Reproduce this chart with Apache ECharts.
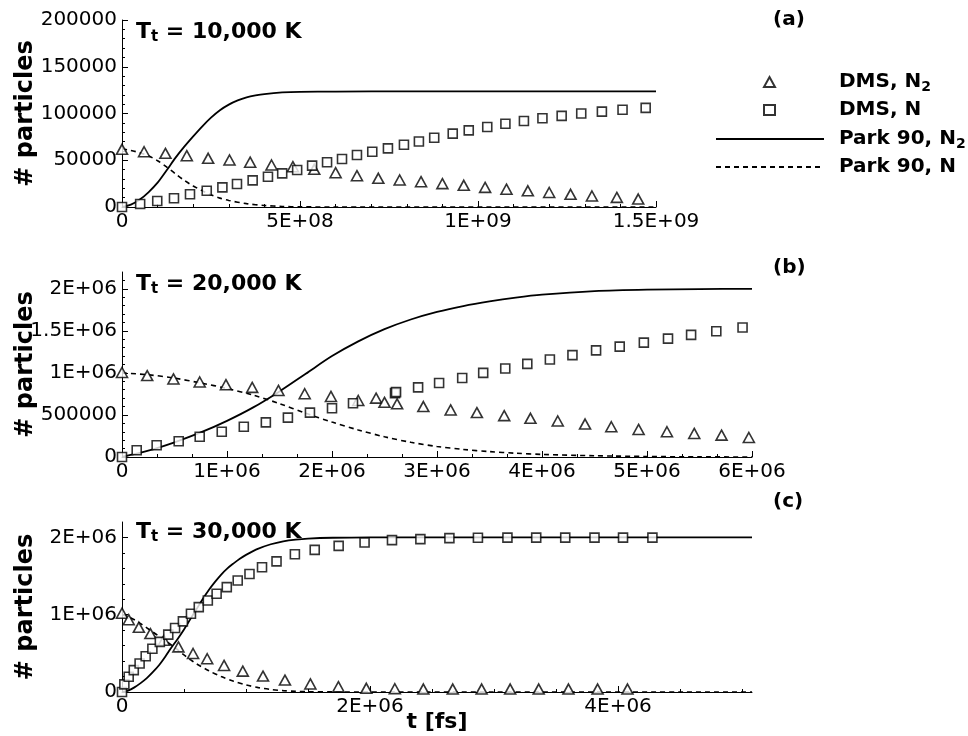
<!DOCTYPE html>
<html><head><meta charset="utf-8">
<script src="https://cdn.jsdelivr.net/npm/echarts@6/dist/echarts.min.js"></script>
<style>html,body{margin:0;padding:0;background:#fff}#c{width:968px;height:736px}</style>
</head><body><div id="c"></div>
<script>
// ---------------- data ----------------
// Panel (a)  T_t = 10,000 K
const a_dmsN2 = [[0,61700],[6.2e7,59100],[1.22e8,57400],[1.82e8,54900],[2.42e8,52100],[3.02e8,50300],[3.6e8,47900],[4.2e8,44900],[4.8e8,43100],[5.4e8,40300],[6.0e8,36700],[6.6e8,33500],[7.2e8,30700],[7.8e8,28900],[8.4e8,27100],[9.0e8,25000],[9.6e8,23200],[1.02e9,21000],[1.08e9,19100],[1.14e9,17300],[1.2e9,15500],[1.26e9,13600],[1.32e9,11800],[1.39e9,10300],[1.45e9,8500]];
const a_dmsN = [[0,0],[5.1e7,3200],[9.9e7,6400],[1.46e8,9300],[1.91e8,13600],[2.38e8,17400],[2.82e8,21000],[3.23e8,24600],[3.67e8,28500],[4.10e8,32400],[4.50e8,36000],[4.92e8,39600],[5.34e8,44200],[5.76e8,47800],[6.18e8,51300],[6.60e8,55600],[7.03e8,59100],[7.47e8,62700],[7.92e8,66600],[8.34e8,70000],[8.77e8,74000],[9.29e8,78500],[9.74e8,82000],[1.026e9,85500],[1.077e9,89000],[1.129e9,92000],[1.181e9,95000],[1.235e9,97500],[1.29e9,100000],[1.348e9,102000],[1.406e9,104000],[1.471e9,106000]];
const a_parkN2 = [[0,0],[2.5e7,2500],[5e7,8000],[7.5e7,16000],[1e8,26000],[1.25e8,39000],[1.5e8,52500],[1.75e8,64500],[2e8,75500],[2.25e8,86000],[2.5e8,95500],[2.75e8,103500],[3e8,109500],[3.25e8,114000],[3.5e8,117200],[3.75e8,119300],[4e8,120800],[4.5e8,122500],[5e8,123200],[6e8,123500],[8e8,123600],[1.5e9,123600]];
const a_parkN = [[0,62000],[2.5e7,60500],[5e7,58000],[7.5e7,54500],[1e8,49500],[1.25e8,43000],[1.5e8,35500],[1.75e8,28500],[2e8,22500],[2.25e8,17500],[2.5e8,13000],[2.75e8,9500],[3e8,7000],[3.5e8,3600],[4e8,1600],[4.5e8,600],[5e8,200],[6e8,0],[1.5e9,0]];

// Panel (b)  T_t = 20,000 K
const b_dmsN2 = [[0,1005000],[2.4e5,968000],[4.9e5,928000],[7.4e5,892000],[9.9e5,860000],[1.24e6,828000],[1.49e6,792000],[1.74e6,752000],[1.99e6,720000],[2.25e6,672000],[2.42e6,700000],[2.5e6,650000],[2.62e6,632000],[2.87e6,600000],[3.13e6,560000],[3.38e6,528000],[3.64e6,492000],[3.89e6,460000],[4.15e6,428000],[4.41e6,392000],[4.66e6,360000],[4.92e6,328000],[5.19e6,300000],[5.45e6,280000],[5.71e6,260000],[5.97e6,232000]];
const b_dmsN = [[0,0],[1.4e5,80000],[3.3e5,140000],[5.4e5,188000],[7.4e5,240000],[9.5e5,300000],[1.16e6,360000],[1.37e6,412000],[1.58e6,468000],[1.79e6,528000],[2.0e6,580000],[2.2e6,640000],[2.6e6,760000],[2.61e6,772000],[2.82e6,828000],[3.02e6,880000],[3.24e6,940000],[3.44e6,1000000],[3.65e6,1052000],[3.86e6,1108000],[4.075e6,1160000],[4.29e6,1212000],[4.515e6,1268000],[4.74e6,1312000],[4.97e6,1360000],[5.2e6,1408000],[5.42e6,1452000],[5.66e6,1496000],[5.91e6,1540000]];
const b_parkN2 = [[0,0],[2.5e5,75000],[5e5,175000],[7.5e5,292000],[1e6,430000],[1.25e6,590000],[1.5e6,780000],[1.75e6,990000],[2e6,1200000],[2.25e6,1375000],[2.5e6,1520000],[2.75e6,1635000],[3e6,1725000],[3.25e6,1795000],[3.5e6,1850000],[3.75e6,1895000],[4e6,1930000],[4.5e6,1972000],[5e6,1990000],[5.5e6,1997000],[6e6,2000000]];
const b_parkN = [[0,1000000],[2.5e5,978000],[5e5,938000],[7.5e5,880000],[1e6,815000],[1.25e6,735000],[1.5e6,635000],[1.75e6,520000],[2e6,415000],[2.25e6,322000],[2.5e6,240000],[2.75e6,175000],[3e6,125000],[3.25e6,90000],[3.5e6,64000],[3.75e6,45000],[4e6,31000],[4.5e6,15000],[5e6,6000],[5.5e6,2000],[6e6,0]];

// Panel (c)  T_t = 30,000 K
const c_dmsN2 = [[0,1020000],[5.4e4,936000],[1.36e5,837000],[2.29e5,756000],[3.38e5,670000],[4.55e5,584000],[5.73e5,498000],[6.87e5,430000],[8.23e5,344000],[9.74e5,270000],[1.137e6,206000],[1.314e6,154000],[1.519e6,104000],[1.745e6,69000],[1.97e6,48000],[2.2e6,42000],[2.43e6,38000],[2.667e6,38000],[2.9e6,38000],[3.13e6,38000],[3.36e6,38000],[3.6e6,38000],[3.835e6,38000],[4.076e6,38000]];
const c_dmsN = [[0,0],[1.9e4,99000],[5.4e4,198000],[9.5e4,283000],[1.42e5,369000],[1.91e5,463000],[2.45e5,559000],[3.05e5,649000],[3.73e5,743000],[4.28e5,829000],[4.91e5,914000],[5.56e5,1013000],[6.19e5,1099000],[6.92e5,1184000],[7.63e5,1271000],[8.45e5,1357000],[9.33e5,1442000],[1.028e6,1528000],[1.129e6,1614000],[1.246e6,1690000],[1.394e6,1783000],[1.554e6,1839000],[1.747e6,1891000],[1.956e6,1935000],[2.177e6,1965000],[2.406e6,1978000],[2.64e6,1991000],[2.87e6,1996000],[3.108e6,1998000],[3.34e6,1998000],[3.574e6,1998000],[3.81e6,1998000],[4.04e6,1998000],[4.277e6,1998000]];
const c_parkN2 = [[0,0],[5e4,18000],[1e5,60000],[1.5e5,115000],[2e5,180000],[2.5e5,260000],[3e5,350000],[3.5e5,460000],[4e5,580000],[4.5e5,690000],[5e5,810000],[5.5e5,940000],[6e5,1070000],[6.5e5,1200000],[7e5,1320000],[7.5e5,1425000],[8e5,1520000],[8.5e5,1600000],[9e5,1665000],[9.5e5,1725000],[1e6,1775000],[1.1e6,1855000],[1.2e6,1912000],[1.3e6,1950000],[1.4e6,1973000],[1.5e6,1986000],[1.7e6,1996000],[2e6,2000000],[5.08e6,2000000]];
const c_parkN = [[0,1000000],[5e4,975000],[1e5,935000],[1.5e5,885000],[2e5,830000],[2.5e5,775000],[3e5,720000],[3.5e5,665000],[4e5,605000],[4.5e5,545000],[5e5,480000],[5.5e5,420000],[6e5,365000],[7e5,275000],[8e5,200000],[9e5,140000],[1e6,92000],[1.1e6,57000],[1.2e6,33000],[1.3e6,18000],[1.4e6,9000],[1.5e6,4000],[1.7e6,1000],[2e6,0],[5.08e6,0]];

// tick labels
const aXTicks = [0,5e8,1e9,1.5e9], aXLabels = ['0','5E+08','1E+09','1.5E+09'];
const aYTicks = [0,50000,100000,150000,200000], aYLabels = ['0','50000','100000','150000','200000'];
const bXTicks = [0,1e6,2e6,3e6,4e6,5e6,6e6], bXLabels = ['0','1E+06','2E+06','3E+06','4E+06','5E+06','6E+06'];
const bYTicks = [0,5e5,1e6,1.5e6,2e6], bYLabels = ['0','500000','1E+06','1.5E+06','2E+06'];
const cXTicks = [0,2e6,4e6], cXLabels = ['0','2E+06','4E+06'];
const cYTicks = [0,1e6,2e6], cYLabels = ['0','1E+06','2E+06'];

const seriesNames = ['DMS, N2','DMS, N','Park 90, N2','Park 90, N'];
const legendText = {'DMS, N2':'{b|DMS, N}{s|2}','DMS, N':'{b|DMS, N}','Park 90, N2':'{b|Park 90, N}{s|2}','Park 90, N':'{b|Park 90, N}'};
const panelTitles = ['10,000 K','20,000 K','30,000 K'];
const panelTags = ['(a)','(b)','(c)'];

// ---------------- chart ----------------
const F = 'DejaVu Sans';
const K = '#000';
function lab(ticks, labels){
  return {
    customValues: ticks, color: K, fontFamily: F, fontSize: 20, margin: 5,
    formatter: function(v){ for (let i=0;i<ticks.length;i++){ if (Math.abs(ticks[i]-v) <= Math.abs(ticks[i])*1e-9+1e-9) return labels[i]; } return ''; }
  };
}
function axisBase(gi, max, interval, split, ticks, labels){
  return {
    type:'value', gridIndex: gi, min: 0, max: max, interval: interval,
    axisLine: {show:true, onZero:false, lineStyle:{color:K, width:1}},
    axisTick: {show:true, inside:true, length:6, customValues: ticks, lineStyle:{color:K, width:1}},
    minorTick: {show:true, splitNumber: split, length:3, lineStyle:{color:K, width:1}},
    splitLine: {show:false}, minorSplitLine:{show:false},
    axisLabel: lab(ticks, labels)
  };
}
const grids = [
  {left:122, right:312, top:20, height:187, containLabel:false, outerBoundsMode:'none'},
  {left:122, right:216, top:272, height:185, containLabel:false, outerBoundsMode:'none'},
  {left:122, right:216, top:522, height:170, containLabel:false, outerBoundsMode:'none'}
];
const xAxes = [
  axisBase(0, 1.5e9, 5e8, 5, aXTicks, aXLabels),
  axisBase(1, 6e6, 1e6, 3, bXTicks, bXLabels),
  Object.assign(axisBase(2, 5.08e6, 2e6, 4, cXTicks, cXLabels), {
    name:'t [fs]', nameLocation:'middle', nameGap:19, nameMoveOverlap:false,
    nameTextStyle:{color:K, fontFamily:F, fontWeight:'bold', fontSize:22, verticalAlign:'top'}
  })
];
const yName = {name:'# particles', nameLocation:'middle', nameGap:84, nameMoveOverlap:false,
  nameTextStyle:{color:K, fontFamily:F, fontWeight:'bold', fontSize:24}};
const yAxes = [
  Object.assign(axisBase(0, 200000, 50000, 5, aYTicks, aYLabels), yName),
  Object.assign(axisBase(1, 2.2e6, 5e5, 5, bYTicks, bYLabels), yName),
  Object.assign(axisBase(2, 2.2e6, 1e6, 5, cYTicks, cYLabels), yName)
];

const markStyle = {color:'#fff', borderColor:K, borderWidth:1.6};
function panelSeries(gi, tri, sq, solid, dashed){
  return [
    {name:seriesNames[0], type:'scatter', xAxisIndex:gi, yAxisIndex:gi, data:tri,
     symbol:'triangle', symbolSize:[11,10], symbolKeepAspect:true, itemStyle:markStyle, z:5, silent:true},
    {name:seriesNames[1], type:'scatter', xAxisIndex:gi, yAxisIndex:gi, data:sq,
     symbol:'rect', symbolSize:9, symbolKeepAspect:true, itemStyle:markStyle, z:5, silent:true},
    {name:seriesNames[2], type:'line', xAxisIndex:gi, yAxisIndex:gi, data:solid,
     showSymbol:false, symbol:'none', smooth:0.3,
     lineStyle:{color:K, width:1.8, type:'solid'}, itemStyle:{color:K}, z:3, silent:true},
    {name:seriesNames[3], type:'line', xAxisIndex:gi, yAxisIndex:gi, data:dashed,
     showSymbol:false, symbol:'none', smooth:0.3,
     lineStyle:{color:K, width:1.6, type:[5,4]}, itemStyle:{color:K}, z:3, silent:true}
  ];
}
const series = [].concat(
  panelSeries(0, a_dmsN2, a_dmsN, a_parkN2, a_parkN),
  panelSeries(1, b_dmsN2, b_dmsN, b_parkN2, b_parkN),
  panelSeries(2, c_dmsN2, c_dmsN, c_parkN2, c_parkN)
);

const titleRich = {
  m:{fontFamily:F, fontWeight:'bold', fontSize:22, color:K, lineHeight:26, verticalAlign:'middle'},
  s:{fontFamily:F, fontWeight:'bold', fontSize:15, color:K, lineHeight:10, verticalAlign:'bottom'}
};
const titleTops = [19, 271, 519];
const tagTops = [10, 258, 492];
const titles = [];
for (let i=0;i<3;i++){
  titles.push({text:'{m|T}{s|t}{m| = '+panelTitles[i]+'}', left:136, top:titleTops[i], padding:0,
    textStyle:{rich:titleRich}});
  titles.push({text:panelTags[i], left:773, top:tagTops[i], padding:0,
    textStyle:{fontFamily:F, fontWeight:'bold', fontSize:20, color:K}});
}

const richLegend = {
  b:{fontFamily:F, fontWeight:'bold', fontSize:20, color:K, lineHeight:24, verticalAlign:'middle'},
  s:{fontFamily:F, fontWeight:'bold', fontSize:14, color:K, lineHeight:10, verticalAlign:'bottom'}
};
const option = {
  backgroundColor:'#fff',
  animation:false,
  title: titles,
  grid: grids,
  xAxis: xAxes,
  yAxis: yAxes,
  legend: [
    { // marker entries
      data: seriesNames.slice(0,2), orient:'vertical', left:763, top:72, padding:0,
      itemWidth:11, itemHeight:10, itemGap:6, selectedMode:false, symbolKeepAspect:true,
      formatter: function(n){ return legendText[n]; },
      textStyle: {color:K, padding:[0,0,0,59], rich:richLegend}
    },
    { // line entries
      data: seriesNames.slice(2).map(function(n){ return {name:n, itemStyle:{opacity:0}}; }),
      orient:'vertical', left:715, top:129, padding:0,
      itemWidth:108, itemHeight:10, itemGap:6, selectedMode:false,
      formatter: function(n){ return legendText[n]; },
      textStyle: {color:K, padding:[0,0,0,10], rich:richLegend}
    }
  ],
  series: series
};
const chart = echarts.init(document.getElementById('c'));
chart.setOption(option);
</script></body></html>
